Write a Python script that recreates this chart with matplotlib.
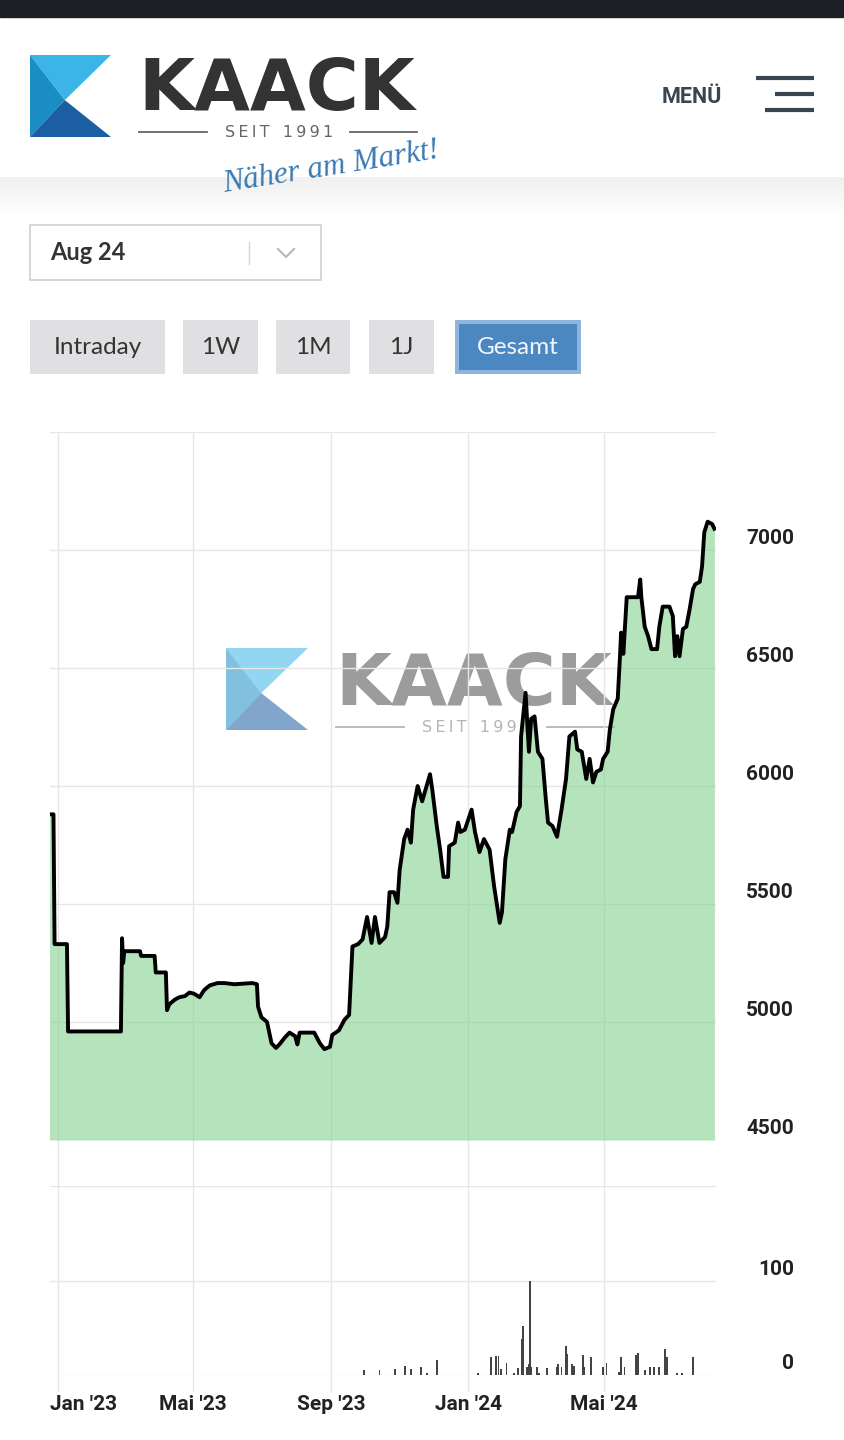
import matplotlib
matplotlib.use("Agg")
import matplotlib.pyplot as plt
import matplotlib.dates as mdates
import matplotlib.transforms as mtrans
from matplotlib.patches import Polygon, Rectangle
from datetime import datetime

W, H = 844, 1440

# settlement prices, Aug 24 contract
price_dates = [
    "2022-12-24", "2022-12-28", "2022-12-29", "2023-01-09", "2023-01-10", "2023-02-26",
    "2023-02-27", "2023-02-28", "2023-03-01", "2023-03-15", "2023-03-16", "2023-03-28",
    "2023-03-29", "2023-04-07", "2023-04-08", "2023-04-10", "2023-04-15", "2023-04-19",
    "2023-04-24", "2023-04-28", "2023-05-02", "2023-05-07", "2023-05-11", "2023-05-16",
    "2023-05-23", "2023-05-29", "2023-06-07", "2023-06-23", "2023-06-27", "2023-06-28",
    "2023-07-01", "2023-07-06", "2023-07-10", "2023-07-14", "2023-07-17", "2023-07-22",
    "2023-07-26", "2023-07-31", "2023-08-02", "2023-08-04", "2023-08-17", "2023-08-22",
    "2023-08-26", "2023-08-31", "2023-09-02", "2023-09-08", "2023-09-13", "2023-09-17",
    "2023-09-20", "2023-09-25", "2023-09-29", "2023-10-03", "2023-10-07", "2023-10-10",
    "2023-10-14", "2023-10-19", "2023-10-21", "2023-10-23", "2023-10-27", "2023-10-30",
    "2023-11-01", "2023-11-05", "2023-11-08", "2023-11-11", "2023-11-13", "2023-11-17",
    "2023-11-21", "2023-11-28", "2023-11-30", "2023-12-04", "2023-12-07", "2023-12-10",
    "2023-12-14", "2023-12-15", "2023-12-20", "2023-12-23", "2023-12-25", "2023-12-29",
    "2024-01-04", "2024-01-07", "2024-01-11", "2024-01-15", "2024-01-20", "2024-01-24",
    "2024-01-29", "2024-01-31", "2024-02-03", "2024-02-07", "2024-02-09", "2024-02-13",
    "2024-02-16", "2024-02-17", "2024-02-21", "2024-02-24", "2024-02-26", "2024-02-29",
    "2024-03-03", "2024-03-07", "2024-03-10", "2024-03-12", "2024-03-16", "2024-03-20",
    "2024-03-24", "2024-03-28", "2024-03-31", "2024-04-05", "2024-04-07", "2024-04-11",
    "2024-04-15", "2024-04-18", "2024-04-21", "2024-04-24", "2024-04-28", "2024-04-30",
    "2024-05-04", "2024-05-06", "2024-05-09", "2024-05-13", "2024-05-15", "2024-05-16",
    "2024-05-18", "2024-05-21", "2024-05-31", "2024-06-02", "2024-06-03", "2024-06-06",
    "2024-06-09", "2024-06-12", "2024-06-17", "2024-06-19", "2024-06-22", "2024-06-28",
    "2024-07-01", "2024-07-03", "2024-07-05", "2024-07-07", "2024-07-10", "2024-07-13",
    "2024-07-16", "2024-07-19", "2024-07-21", "2024-07-25", "2024-07-27", "2024-07-29",
    "2024-08-01", "2024-08-05", "2024-08-07",
]
price_values = [
    5880, 5880, 5330, 5330, 4960, 4960,
    5355, 5250, 5300, 5300, 5280, 5280,
    5210, 5210, 5050, 5075, 5095, 5105,
    5110, 5125, 5120, 5105, 5135, 5155,
    5165, 5165, 5160, 5165, 5160, 5065,
    5020, 5000, 4910, 4890, 4905, 4935,
    4955, 4940, 4905, 4955, 4955, 4910,
    4885, 4895, 4945, 4965, 5010, 5030,
    5320, 5330, 5350, 5445, 5335, 5445,
    5335, 5360, 5405, 5550, 5550, 5505,
    5645, 5775, 5815, 5760, 5900, 6000,
    5935, 6050, 5985, 5830, 5730, 5615,
    5615, 5745, 5760, 5845, 5805, 5815,
    5900, 5805, 5720, 5775, 5730, 5575,
    5420, 5465, 5690, 5815, 5805, 5890,
    5915, 6210, 6395, 6145, 6285, 6295,
    6145, 6115, 5945, 5845, 5830, 5785,
    5900, 6030, 6210, 6230, 6155, 6145,
    6030, 6115, 6015, 6060, 6070, 6115,
    6145, 6240, 6325, 6370, 6550, 6650,
    6560, 6800, 6800, 6875, 6800, 6675,
    6635, 6580, 6580, 6675, 6760, 6760,
    6720, 6550, 6635, 6550, 6665, 6675,
    6750, 6835, 6855, 6865, 6930, 7075,
    7120, 7110, 7090,
]

# traded volume
volume_dates = [
    "2023-09-30", "2023-10-14", "2023-10-28", "2023-11-06", "2023-11-11", "2023-11-20",
    "2023-11-25", "2023-12-04", "2024-01-10", "2024-01-21", "2024-01-26", "2024-01-28",
    "2024-01-30", "2024-02-04", "2024-02-11", "2024-02-14", "2024-02-18", "2024-02-19",
    "2024-02-22", "2024-02-24", "2024-02-25", "2024-02-26", "2024-03-02", "2024-03-04",
    "2024-03-11", "2024-03-20", "2024-03-21", "2024-03-24", "2024-03-28", "2024-03-29",
    "2024-04-02", "2024-04-04", "2024-04-12", "2024-04-13", "2024-04-19", "2024-04-30",
    "2024-05-03", "2024-05-14", "2024-05-16", "2024-05-19", "2024-05-29", "2024-05-31",
    "2024-06-06", "2024-06-11", "2024-06-14", "2024-06-19", "2024-06-24", "2024-06-26",
    "2024-07-05", "2024-07-09", "2024-07-19",
]
volume_values = [
    5, 5, 6, 10, 6, 8,
    2, 16, 2, 19, 20, 20,
    6, 13, 2, 7, 38, 52,
    8, 12, 99, 8, 8, 2,
    7, 8, 12, 8, 31, 22,
    12, 10, 21, 8, 19, 8,
    13, 3, 19, 8, 21, 23,
    5, 8, 8, 8, 27, 19,
    2, 2, 19,
]

price_ticks = [4500, 5000, 5500, 6000, 6500, 7000, 7500]
price_labels = ["4500", "5000", "5500", "6000", "6500", "7000", ""]
volume_ticks = [0, 100, 200]
volume_labels = ["0", "100", ""]
x_tick_dates = ["2023-01-01", "2023-05-01", "2023-09-01", "2024-01-01", "2024-05-01"]
x_tick_labels = ["Jan '23", "Mai '23", "Sep '23", "Jan '24", "Mai '24"]
contract = "Aug 24"
range_buttons = ["Intraday", "1W", "1M", "1J", "Gesamt"]


def to_num(dates):
    return [mdates.date2num(datetime.strptime(d, "%Y-%m-%d")) for d in dates]


def frac_rect(x0, y0, x1, y1):
    """pixel box (top-left origin) -> figure fraction rect"""
    return [x0 / W, 1 - y1 / H, (x1 - x0) / W, (y1 - y0) / H]


def draw_icon(ax, x0, y0, w, h, alpha=1.0):
    px, py = x0 + 0.43 * w, y0 + 0.55 * h
    ax.add_patch(Polygon([(x0, y0), (x0 + w, y0), (px, py)], fc="#3bb5e8", ec="none", alpha=alpha))
    ax.add_patch(Polygon([(x0, y0), (px, py), (x0, y0 + h)], fc="#1a8dc5", ec="none", alpha=alpha))
    ax.add_patch(Polygon([(x0, y0 + h), (px, py), (x0 + w, y0 + h)], fc="#1b5ea1", ec="none", alpha=alpha))


def draw_wordmark(ax, x, base, color, line_color):
    ax.text(x, base, "KAACK", fontsize=52, fontweight="bold", family="DejaVu Sans",
            color=color, ha="left", va="baseline")
    # letter-spaced tagline between two rules
    ax.text(x + 141, base + 22.5, "S\u2009E\u2009I\u2009T\u2002 1\u20099\u20099\u20091",
            fontsize=11.5, family="DejaVu Sans", color=line_color, ha="center", va="center")
    ax.plot([x + 1, x + 69], [base + 22, base + 22], color=line_color, lw=1.3)
    ax.plot([x + 212, x + 279], [base + 22, base + 22], color=line_color, lw=1.3)


fig = plt.figure(figsize=(W / 100, H / 100), dpi=100)

# pixel-space background layer
bg = fig.add_axes([0, 0, 1, 1], zorder=0)
bg.set_xlim(0, W)
bg.set_ylim(H, 0)
bg.axis("off")

# status bar + header shadow
bg.add_patch(Rectangle((0, 0), W, 17, color="#1c1f23"))
for i in range(38):
    g = 0.945 + 0.055 * (i / 37) ** 1.5
    bg.add_patch(Rectangle((0, 177 + i), W, 1.2, color=(g, g, g), lw=0))

# header logo
draw_icon(bg, 30, 55, 81, 82)
draw_wordmark(bg, 138, 110, "#333333", "#666666")
bg.text(331, 167, "Näher am Markt!", rotation=9, fontsize=22.5, style="italic",
        family="Liberation Serif", color="#3b7ab3", ha="center", va="center")

# menu
bg.text(692, 97, "MENÜ", fontsize=15.5, fontweight="bold", family="Roboto",
        color="#3a4552", ha="center", va="center")
for x0, y in [(756, 78), (775, 94), (765, 110)]:
    bg.plot([x0, 814], [y, y], color="#3a4552", lw=3, solid_capstyle="butt")

# contract dropdown
bg.add_patch(Rectangle((30, 225), 291, 55, fc="white", ec="#cfcfcf", lw=1.2))
bg.text(50, 253, contract, fontsize=17, fontweight="bold", family="Lato",
        color="#333333", ha="left", va="center")
bg.plot([249, 249], [242, 264], color="#d5d5d5", lw=1)
bg.plot([278, 286, 294], [249, 257, 249], color="#bbbbbb", lw=1.6)

# range buttons
button_x = [(30, 165), (183, 258), (276, 350), (369, 434), (455, 581)]
for (x0, x1), label in zip(button_x, range_buttons):
    if label == "Gesamt":
        bg.add_patch(Rectangle((x0, 320), x1 - x0, 54, fc="#8fb5dc", lw=0))
        bg.add_patch(Rectangle((x0 + 4, 324), x1 - x0 - 8, 46, fc="#4b87c1", lw=0))
        tc = "#f2f6fb"
    else:
        bg.add_patch(Rectangle((x0, 320), x1 - x0, 54, fc="#e0e0e2", lw=0))
        tc = "#333333"
    bg.text((x0 + x1) / 2, 348, label, fontsize=17.5, family="Lato", color=tc,
            ha="center", va="center")

# chart watermark
draw_icon(bg, 226, 648, 82, 82, alpha=0.55)
draw_wordmark(bg, 335, 705, "#9c9c9c", "#b5b5b5")

# date range of the chart
x_start = mdates.date2num(datetime(2022, 12, 24, 22))
x_end = mdates.date2num(datetime(2024, 8, 8, 10))
tick_nums = to_num(x_tick_dates)

# vertical grid spanning both panes
grid_ax = fig.add_axes(frac_rect(50, 432, 716, 1392), zorder=1)
grid_ax.set_xlim(x_start, x_end)
grid_ax.set_ylim(0, 1)
grid_ax.axis("off")
for t in tick_nums:
    grid_ax.axvline(t, color="#e6e6e6", lw=1)

ax_p = fig.add_axes(frac_rect(50, 432, 716, 1140), zorder=2)
ax_v = fig.add_axes(frac_rect(50, 1186, 716, 1375), zorder=2)

for ax, ticks, lo, hi in [(ax_p, price_ticks, 4500, 7500), (ax_v, volume_ticks, 0, 200)]:
    ax.set_facecolor("none")
    ax.set_xlim(x_start, x_end)
    ax.set_ylim(lo, hi)
    ax.set_yticks(ticks)
    ax.set_axisbelow(True)
    ax.grid(axis="y", color="#e6e6e6", lw=1)
    ax.tick_params(left=False, right=False, bottom=False, labelleft=False, labelbottom=False)
    for s in ax.spines.values():
        s.set_visible(False)

# price area
pd_num = to_num(price_dates)
ax_p.fill_between(pd_num, price_values, 4500, color="#83d190", alpha=0.6, lw=0, zorder=1)
ax_p.plot(pd_num, price_values, color="black", lw=2.8, solid_joinstyle="round", zorder=3)

# volume bars
ax_v.bar(to_num(volume_dates), volume_values, width=1.6, color="#434348", lw=0)

# y labels sit just above their gridline, right side
for ax, ticks, labels in [(ax_p, price_ticks, price_labels), (ax_v, volume_ticks, volume_labels)]:
    for v, lab in zip(ticks, labels):
        ax.annotate(lab, xy=(1, v), xycoords=("axes fraction", "data"),
                    xytext=(56.2, 8.0), textcoords="offset points", ha="right", va="center",
                    fontsize=15, fontweight="bold", family="Roboto", color="#222222")

# x labels
xtr = mtrans.blended_transform_factory(grid_ax.transData, bg.transData)
for i, (t, lab) in enumerate(zip(tick_nums, x_tick_labels)):
    if i == 0:
        grid_ax.text(x_start, 1404, lab, transform=xtr, ha="left", va="center",
                     fontsize=15, fontweight="bold", family="Roboto", color="#222222")
    else:
        grid_ax.text(t, 1404, lab, transform=xtr, ha="center", va="center",
                     fontsize=15, fontweight="bold", family="Roboto", color="#222222")

fig.savefig("out.png", dpi=100)
